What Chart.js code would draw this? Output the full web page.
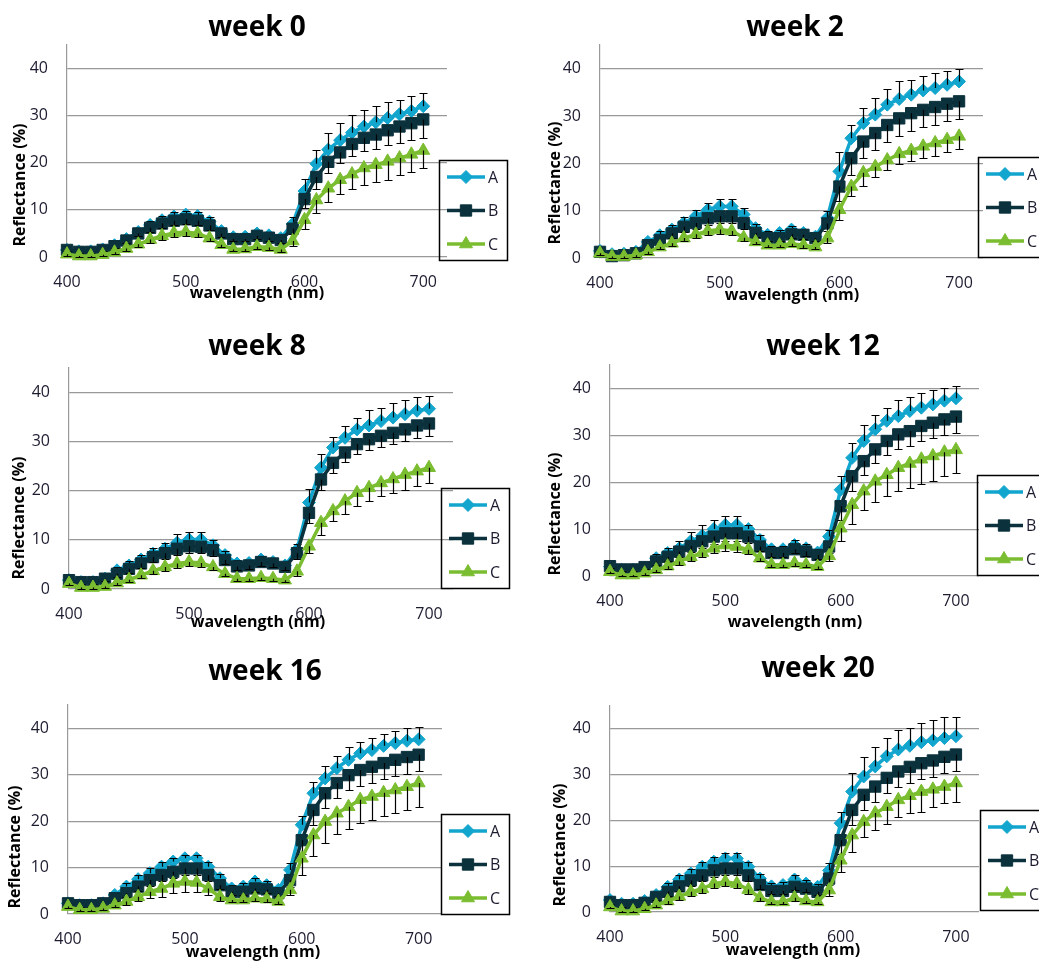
<!DOCTYPE html>
<html>
<head>
<meta charset="utf-8">
<title>Reflectance spectra by week</title>
<script src="https://cdn.jsdelivr.net/npm/chart.js@4.4.1/dist/chart.umd.min.js"></script>
<style>
  html, body { margin: 0; padding: 0; background: #fff; }
  #grid { position: relative; width: 1039px; height: 961px; overflow: hidden; }
  #grid canvas { position: absolute; }
</style>
</head>
<body>
<div id="grid"></div>
<script>
const wavelengths = [400, 410, 420, 430, 440, 450, 460, 470, 480, 490, 500, 510, 520, 530, 540, 550,
                     560, 570, 580, 590, 600, 610, 620, 630, 640, 650, 660, 670, 680, 690, 700];
const seriesNames = ['A', 'B', 'C'];
const weekTitles = ['week 0', 'week 2', 'week 8', 'week 12', 'week 16', 'week 20'];
const xTicks = [400, 500, 600, 700];
const yTicks = [0, 10, 20, 30, 40];

// mean reflectance (%) per sample group
const w0A = [1.5,1.2,1.2,1.6,2.5,3.8,5.3,6.8,7.8,8.6,9.0,8.7,7.5,5.5,4.2,4.3,5.0,4.6,4.0,7.0,14.0,19.8,22.8,24.8,26.4,27.7,28.6,29.5,30.3,31.0,32.0];
const w0B = [1.5,1.1,1.1,1.5,2.3,3.5,5.0,6.2,7.1,7.7,8.0,7.7,6.7,5.0,3.8,3.8,4.5,4.1,3.6,6.0,12.3,17.0,20.2,22.2,24.0,25.3,26.0,26.9,27.7,28.4,29.2];
const w0C = [0.6,0.2,0.2,0.5,1.0,1.8,2.7,3.7,4.5,5.1,5.3,5.0,4.0,2.6,1.6,1.7,2.2,2.0,1.6,3.4,7.9,12.1,14.6,16.4,17.6,18.9,19.6,20.3,21.0,21.8,22.6];

const w2A = [1.5,0.8,0.9,1.3,3.4,4.8,6.0,7.4,8.8,10.2,10.9,10.9,9.2,6.3,4.9,5.3,6.0,5.3,4.5,8.5,18.3,25.3,28.5,30.3,32.4,33.6,34.5,35.4,35.9,36.6,37.3];
const w2B = [1.3,0.4,0.6,1.0,2.7,3.8,5.2,6.6,7.4,8.4,8.8,8.8,7.4,5.3,4.2,4.2,5.0,4.9,4.2,7.3,15.1,21.1,24.6,26.4,28.1,29.5,30.6,31.3,31.9,32.6,33.1];
const w2C = [1.0,0.3,0.3,0.6,1.3,2.3,3.1,4.2,5.0,5.7,6.0,5.7,4.3,3.4,2.7,2.7,3.0,2.7,2.3,4.2,10.2,15.1,18.0,19.3,20.7,22.0,22.7,23.6,24.3,25.0,25.7];

const w8A = [1.8,1.4,1.4,2.1,3.8,4.8,6.0,7.2,8.2,9.4,10.1,10.1,8.9,6.9,5.2,5.3,6.0,5.5,4.8,8.0,17.6,24.7,28.8,30.8,32.5,33.3,34.2,34.9,35.6,36.3,36.7];
const w8B = [1.8,1.4,1.4,2.1,3.1,4.1,5.2,6.5,7.3,8.2,8.7,8.6,7.9,5.9,4.6,4.8,5.5,5.2,4.5,7.3,15.5,22.3,25.7,27.8,29.5,30.5,31.2,31.8,32.5,33.3,33.7];
const w8C = [1.1,0.3,0.3,0.5,1.2,1.9,2.8,3.7,4.5,5.2,5.5,5.3,4.5,3.1,2.1,2.1,2.3,2.1,1.8,3.6,8.7,13.5,15.9,17.9,19.6,20.6,21.6,22.4,23.3,24.0,24.7];

const w12A = [2.0,1.3,1.3,1.8,3.8,4.9,5.9,7.4,8.6,10.0,10.9,10.9,10.0,7.7,5.7,5.7,6.6,5.9,5.0,8.4,18.4,25.2,28.8,31.3,33.1,34.1,35.2,35.9,36.6,37.4,37.9];
const w12B = [2.1,1.4,1.4,1.9,3.1,4.1,5.2,6.4,7.4,8.4,9.1,9.1,8.4,6.3,4.9,4.9,5.7,5.2,4.5,6.3,14.9,21.3,24.5,27.0,28.8,30.2,30.9,32.0,32.7,33.4,34.0];
const w12C = [0.9,0.2,0.2,0.6,1.3,2.1,3.1,4.1,5.0,5.9,6.6,6.3,5.6,3.8,2.4,2.4,2.7,2.4,2.0,4.3,10.2,15.2,18.1,20.2,21.6,23.1,24.0,24.9,25.6,26.4,26.9];

const w16A = [2.3,1.9,1.9,2.3,4.1,5.9,7.5,8.8,10.2,11.3,12.0,12.0,10.2,7.7,5.5,5.9,7.0,6.2,5.2,9.5,19.2,26.0,29.2,31.4,33.2,34.6,35.3,36.2,36.8,37.3,37.6];
const w16B = [2.3,1.9,1.9,2.3,3.4,4.5,5.9,7.3,8.4,9.1,9.8,9.8,8.4,6.2,4.8,4.8,5.5,5.3,4.5,7.3,15.9,22.4,26.0,28.2,29.9,31.0,31.7,32.5,33.2,33.8,34.3];
const w16C = [1.6,0.9,0.9,1.2,1.9,2.7,3.7,4.8,5.5,6.6,7.0,6.8,5.5,3.7,3.0,3.0,3.4,3.2,2.7,5.2,12.0,17.0,19.9,21.7,23.1,24.6,25.3,26.1,26.7,27.4,28.2];

const w20A = [2.6,1.8,1.8,2.4,3.7,5.5,7.1,8.4,9.9,11.0,11.7,11.7,9.9,7.3,5.6,5.9,7.1,6.2,5.5,9.1,19.4,26.3,29.6,31.8,34.0,35.5,36.3,37.1,37.5,38.0,38.4];
const w20B = [2.2,1.5,1.5,2.0,3.3,4.4,5.6,6.9,8.0,9.1,9.5,9.5,8.0,5.9,4.6,4.6,5.5,5.1,4.4,7.3,15.7,22.3,25.6,27.4,29.3,30.7,31.7,32.5,33.1,33.9,34.4];
const w20C = [1.1,0.2,0.2,0.7,1.5,2.4,3.4,4.4,5.1,6.2,6.6,6.2,4.9,3.1,2.2,2.2,3.1,2.4,2.2,4.8,11.3,16.8,19.7,21.6,23.0,24.5,25.4,26.3,26.8,27.4,28.2];

// error bar lengths: A is drawn upward, B and C downward
const e0A = [0.3,0.3,0.3,0.3,0.4,0.5,0.6,0.8,0.9,0.9,0.8,0.9,0.9,0.7,0.5,0.5,0.6,0.6,0.6,1.5,2.5,3.0,3.5,3.7,3.8,3.5,3.4,3.3,3.1,3.1,2.9];
const e0B = [0.3,0.3,0.3,0.3,0.4,0.5,0.6,0.8,0.9,1.0,1.0,1.0,0.9,0.7,0.5,0.5,0.6,0.6,0.6,1.2,2.0,2.5,2.4,2.2,2.5,2.8,3.0,3.2,3.4,3.6,4.0];
const e0C = [0.3,0.2,0.2,0.3,0.4,0.5,0.6,0.7,0.8,0.8,0.8,0.8,0.7,0.5,0.4,0.4,0.5,0.5,0.5,1.0,2.0,2.7,2.9,3.0,3.2,3.6,3.6,3.9,3.6,3.7,3.7];

const e2A = [0.4,0.3,0.3,0.4,0.6,0.8,1.0,1.2,1.4,1.5,1.5,1.5,1.3,0.9,0.7,0.7,0.8,0.8,0.7,1.5,4.0,2.8,3.2,3.5,3.3,3.7,3.2,3.1,3.2,2.9,2.7];
const e2B = [0.4,0.3,0.3,0.4,0.6,0.8,1.0,1.2,1.3,1.4,1.4,1.4,1.2,0.9,0.7,0.7,0.8,0.8,0.7,1.5,3.0,3.5,3.5,3.6,3.5,3.8,3.8,3.6,3.8,3.7,3.8];
const e2C = [0.3,0.2,0.2,0.3,0.4,0.5,0.6,0.7,0.8,0.9,0.9,0.9,0.7,0.5,0.4,0.4,0.5,0.5,0.4,1.0,2.2,2.1,2.7,2.1,2.1,2.1,2.2,2.5,2.7,2.5,2.6];

const e8A = [0.4,0.3,0.3,0.4,0.6,0.8,1.0,1.1,1.2,1.7,1.5,1.6,1.1,0.9,0.7,0.7,0.8,0.8,0.7,1.2,2.7,2.7,2.2,2.3,2.4,3.2,2.7,2.9,2.9,2.7,2.6];
const e8B = [0.4,0.3,0.3,0.4,0.6,0.8,1.0,1.1,1.2,1.3,1.3,1.3,1.1,0.9,0.7,0.7,0.8,0.8,0.7,1.2,2.0,2.2,2.0,2.0,2.0,2.2,2.2,2.3,2.4,2.5,2.6];
const e8C = [0.3,0.2,0.2,0.3,0.4,0.5,0.6,0.7,0.8,0.9,0.9,0.9,0.7,0.5,0.4,0.4,0.5,0.5,0.4,0.9,1.4,2.6,2.1,2.7,2.7,2.7,2.7,2.8,3.2,3.0,3.2];

const e12A = [0.4,0.3,0.3,0.4,0.8,1.0,1.5,1.9,2.3,2.0,2.0,2.0,0.9,1.0,0.8,0.8,1.0,0.9,0.8,1.5,2.9,3.2,3.3,3.0,2.8,3.4,2.9,3.2,3.1,2.6,2.7];
const e12B = [0.4,0.3,0.3,0.4,0.7,0.9,1.1,1.3,1.5,1.6,1.6,1.6,1.4,1.0,0.8,0.8,0.9,0.9,0.8,1.5,3.0,3.2,3.0,3.0,3.0,3.1,3.1,3.2,3.2,3.3,3.4];
const e12C = [0.3,0.2,0.2,0.3,0.4,0.6,0.7,0.8,1.0,1.1,1.2,1.1,1.0,0.7,0.5,0.5,0.6,0.5,0.5,1.2,2.8,4.1,4.1,4.5,4.6,5.0,5.2,5.2,5.4,5.0,5.0];

const e16A = [0.4,0.3,0.3,0.4,0.6,0.8,1.0,1.0,0.9,0.8,0.7,0.7,0.9,0.9,0.7,0.7,0.8,0.8,0.7,1.5,1.9,2.5,2.7,2.6,2.7,2.5,2.5,2.6,2.7,2.7,2.6];
const e16B = [0.4,0.3,0.3,0.4,0.6,0.8,1.0,1.2,1.3,1.4,1.4,1.4,1.2,0.9,0.7,0.7,0.8,0.8,0.7,1.5,3.0,3.2,3.2,3.3,3.3,3.4,3.4,3.5,3.5,3.6,3.6];
const e16C = [0.3,0.2,0.2,0.3,0.5,0.7,1.0,1.4,1.8,2.0,2.2,2.0,1.5,0.8,0.5,0.5,0.6,0.6,0.5,1.2,3.6,4.6,4.7,4.5,4.9,4.9,5.0,5.0,4.9,5.0,5.1];

const e20A = [0.4,0.3,0.3,0.4,0.6,0.8,1.0,1.1,1.1,1.1,1.1,1.1,1.0,0.9,0.7,0.7,0.9,0.8,0.7,1.5,2.5,4.0,4.3,4.2,4.0,4.2,3.9,4.2,4.5,4.6,4.2];
const e20B = [0.4,0.3,0.3,0.4,0.6,0.8,1.0,1.2,1.3,1.4,1.4,1.4,1.2,0.9,0.7,0.7,0.8,0.8,0.7,1.5,3.0,3.2,3.3,3.3,3.4,3.4,3.5,3.5,3.6,3.6,3.7];
const e20C = [0.3,0.2,0.2,0.3,0.4,0.6,0.7,0.8,0.9,1.0,1.0,1.0,0.9,0.6,0.5,0.5,0.6,0.5,0.5,1.2,2.5,3.6,3.4,3.7,3.8,3.7,3.8,4.4,3.8,3.6,4.1];

const weeks = [
  { values: [w0A, w0B, w0C],    errors: [e0A, e0B, e0C] },
  { values: [w2A, w2B, w2C],    errors: [e2A, e2B, e2C] },
  { values: [w8A, w8B, w8C],    errors: [e8A, e8B, e8C] },
  { values: [w12A, w12B, w12C], errors: [e12A, e12B, e12C] },
  { values: [w16A, w16B, w16C], errors: [e16A, e16B, e16C] },
  { values: [w20A, w20B, w20C], errors: [e20A, e20B, e20C] }
];
const errorSigns = [1, -1, -1];

const colors = ['#12a5cd', '#0a313c', '#7bbd30'];
const pointStyles = ['rectRot', 'rect', 'triangle'];
const pointRadii = [6.5, 8, 7.5];
const textDark = '#1c1c30';
const FONT = "'Open Sans', 'DejaVu Sans', sans-serif";

// canvas placement and plot-area box [left, top, right, bottom] in canvas pixels
const panels = [
  { left: 0,   top: 0,   w: 520, h: 320, area: [67, 45, 447, 257], title: [257, 28], xTitle: [257, 293], yTitle: [20, 185], legend: [439, 160] },
  { left: 520, top: 0,   w: 519, h: 320, area: [80, 45, 463, 258], title: [275, 28], xTitle: [272, 295], yTitle: [35, 183], legend: [458, 157] },
  { left: 0,   top: 320, w: 520, h: 320, area: [69, 48, 453, 269], title: [257, 27], xTitle: [258, 302], yTitle: [19, 198], legend: [441, 168] },
  { left: 520, top: 320, w: 519, h: 320, area: [90, 45, 459, 256], title: [303, 27], xTitle: [275, 302], yTitle: [35, 194], legend: [457, 155] },
  { left: 0,   top: 640, w: 520, h: 321, area: [68, 65, 442, 274], title: [265, 32], xTitle: [253, 312], yTitle: [15, 207], legend: [441, 174] },
  { left: 520, top: 640, w: 519, h: 321, area: [90, 66, 459, 272], title: [298, 29], xTitle: [273, 310], yTitle: [40, 205], legend: [460, 170] }
];

// one-sided error bars with small caps, drawn right after each series
const errorBars = {
  id: 'errorBars',
  afterDatasetDraw(chart, args, opts) {
    const i = args.index;
    const errs = opts.errors[i];
    const sign = errorSigns[i];
    const vals = chart.data.datasets[i].data;
    const xs = chart.scales.x, ys = chart.scales.y;
    const ctx = chart.ctx;
    ctx.save();
    ctx.strokeStyle = '#000';
    ctx.lineWidth = 1.2;
    ctx.beginPath();
    vals.forEach((pt, k) => {
      const px = Math.round(xs.getPixelForValue(pt.x)) + 0.5;
      const y0 = ys.getPixelForValue(pt.y);
      const y1 = Math.round(ys.getPixelForValue(pt.y + sign * errs[k])) + 0.5;
      ctx.moveTo(px, y0);
      ctx.lineTo(px, y1);
      ctx.moveTo(px - 4, y1);
      ctx.lineTo(px + 4, y1);
    });
    ctx.stroke();
    ctx.restore();
  }
};

// titles, axis titles and the boxed legend
const panelText = {
  id: 'panelText',
  afterDraw(chart, args, opts) {
    const p = opts.panel;
    const ctx = chart.ctx;
    ctx.save();
    ctx.fillStyle = '#000';
    ctx.textAlign = 'center';
    ctx.textBaseline = 'middle';
    ctx.font = 'bold 28px ' + FONT;
    ctx.fillText(opts.title, p.title[0], p.title[1]);
    ctx.font = 'bold 16px ' + FONT;
    ctx.fillText('wavelength (nm)', p.xTitle[0], p.xTitle[1]);
    ctx.save();
    ctx.translate(p.yTitle[0], p.yTitle[1]);
    ctx.rotate(-Math.PI / 2);
    ctx.fillText('Reflectance (%)', 0, 0);
    ctx.restore();

    const [bx, by] = p.legend;
    ctx.strokeStyle = '#000';
    ctx.lineWidth = 1.5;
    ctx.strokeRect(bx + 0.5, by + 0.5, 68, 100);
    seriesNames.forEach((name, i) => {
      const ly = by + 17 + i * 33.5;
      ctx.strokeStyle = colors[i];
      ctx.fillStyle = colors[i];
      ctx.lineWidth = 3.5;
      ctx.beginPath();
      ctx.moveTo(bx + 8, ly);
      ctx.lineTo(bx + 46, ly);
      ctx.stroke();
      ctx.lineWidth = 1;
      Chart.helpers.drawPoint(ctx, { pointStyle: pointStyles[i], radius: pointRadii[i], borderWidth: 1, rotation: 0 }, bx + 27, ly);
      ctx.fillStyle = textDark;
      ctx.textAlign = 'left';
      ctx.font = '16px ' + FONT;
      ctx.fillText(name, bx + 49, ly + 1);
    });
    ctx.restore();
  }
};

const grid = document.getElementById('grid');

panels.forEach((p, n) => {
  const canvas = document.createElement('canvas');
  canvas.width = p.w;
  canvas.height = p.h;
  canvas.style.left = p.left + 'px';
  canvas.style.top = p.top + 'px';
  grid.appendChild(canvas);

  const [l, t, r, b] = p.area;
  const week = weeks[n];

  new Chart(canvas, {
    type: 'line',
    data: {
      datasets: week.values.map((vals, i) => ({
        label: seriesNames[i],
        data: wavelengths.map((x, k) => ({ x: x, y: vals[k] })),
        borderColor: colors[i],
        backgroundColor: colors[i],
        borderWidth: 3.5,
        pointStyle: pointStyles[i],
        pointRadius: pointRadii[i],
        pointBorderWidth: 1,
        pointBackgroundColor: colors[i],
        pointBorderColor: colors[i],
        tension: 0,
        clip: false,
        order: 3 - i
      }))
    },
    options: {
      responsive: false,
      animation: false,
      devicePixelRatio: 1,
      layout: { padding: { left: 0, top: t, right: p.w - r, bottom: 0 } },
      plugins: {
        legend: { display: false },
        tooltip: { enabled: false },
        errorBars: { errors: week.errors },
        panelText: { panel: p, title: weekTitles[n] }
      },
      scales: {
        x: {
          type: 'linear',
          min: 400,
          max: 720,
          afterBuildTicks: s => { s.ticks = xTicks.map(v => ({ value: v })); },
          afterFit: s => { s.height = p.h - b; },
          grid: { display: false, drawTicks: false },
          border: { display: false },
          ticks: { padding: 16, color: textDark, font: { family: FONT, size: 16 }, maxRotation: 0 }
        },
        y: {
          min: 0,
          max: 45,
          afterBuildTicks: s => { s.ticks = yTicks.map(v => ({ value: v })); },
          afterFit: s => { s.width = l; },
          grid: { color: '#999999', lineWidth: 1.2, drawTicks: false },
          border: { display: true, color: '#999999', width: 1.2 },
          ticks: { padding: 19, color: textDark, font: { family: FONT, size: 16 } }
        }
      }
    },
    plugins: [errorBars, panelText]
  });
});
</script>
</body>
</html>
